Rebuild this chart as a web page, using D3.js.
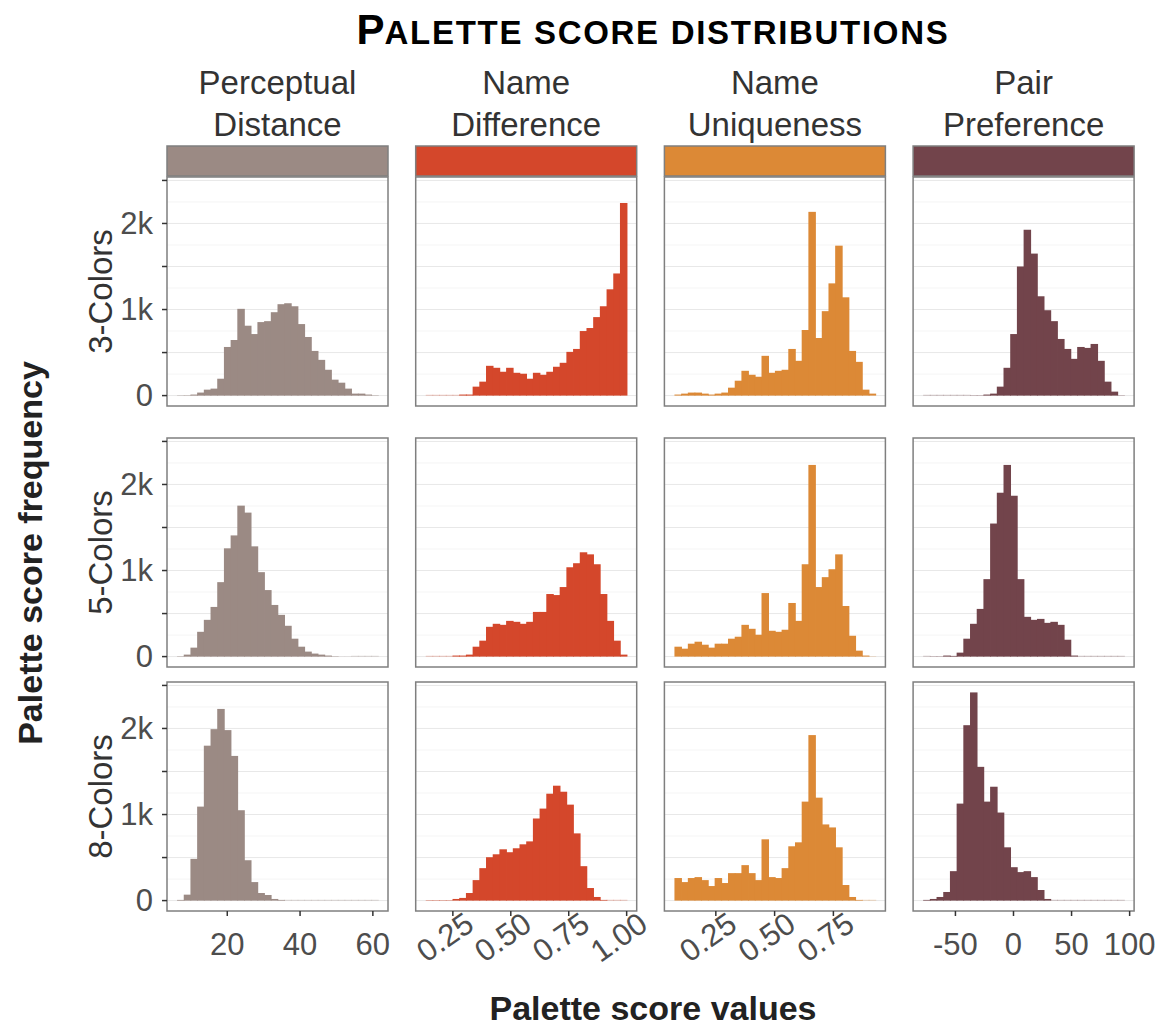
<html>
  <head>
    <script src="https://d3js.org/d3.v7.min.js"></script>
    <style>
      body { margin: 0; background: #fff; }
      text { font-family: "Liberation Sans", Arial, sans-serif; }
      .panel-border { fill: none; stroke: #7f7f7f; stroke-width: 1.5px; }
      .grid-major { stroke: #e8e8e8; stroke-width: 1px; }
      .grid-minor { stroke: #f5f5f5; stroke-width: 1px; }
      .tick-label { fill: #4d4d4d; font-size: 31px; }
      .strip-text { fill: #333; font-size: 33px; }
      .axis-title { fill: #222; font-size: 34px; font-weight: bold; }
    </style>
  </head>
  <body>
    <svg id="chart" width="1171" height="1027"></svg>
    <script>
      // Facet labels
      const measureLines = [
        ["Perceptual", "Distance"],
        ["Name", "Difference"],
        ["Name", "Uniqueness"],
        ["Pair", "Preference"]
      ];
      const measureColors = ["#9b8a84", "#d4472b", "#dc8936", "#72444b"];
      const rowLabels = ["3-Colors", "5-Colors", "8-Colors"];

      // 30 bins per column, shared range across rows (lo edge, hi edge)
      const binRanges = [[6.2, 61.4], [0.133, 1.0], [0.074, 0.9285], [-77.8, 95.2]];
      const xTicks = [[20, 40, 60], [0.25, 0.5, 0.75, 1.0], [0.25, 0.5, 0.75], [-50, 0, 50, 100]];
      const xTickLabels = [["20", "40", "60"], ["0.25", "0.50", "0.75", "1.00"], ["0.25", "0.50", "0.75"], ["-50", "0", "50", "100"]];
      const xTickRotated = [false, true, true, false];
      const yTicks = [0, 500, 1000, 1500, 2000, 2500];
      const yTickLabels = ["0", "", "1k", "", "2k", ""];

      // counts per bin, one array per column
      const counts3 = [
        [3, 4, 12, 35, 69, 81, 196, 565, 646, 1008, 812, 715, 854, 865, 969, 1062, 1073, 1038, 831, 681, 519, 415, 300, 185, 150, 81, 23, 23, 12, 4],
        [0, 0, 0, 0, 0, 12, 12, 104, 162, 346, 323, 277, 323, 265, 254, 196, 265, 242, 277, 335, 381, 508, 542, 750, 785, 912, 1038, 1235, 1419, 2238],
        [12, 23, 35, 35, 23, 12, 23, 35, 92, 173, 288, 242, 219, 462, 265, 288, 300, 542, 404, 762, 2135, 669, 981, 1304, 1742, 1142, 519, 392, 69, 23],
        [0, 0, 0, 0, 0, 0, 0, 3, 3, 12, 23, 104, 323, 715, 1500, 1927, 1650, 1154, 992, 865, 658, 542, 427, 565, 554, 600, 404, 162, 46, 3]
      ];
      const counts5 = [
        [4, 23, 104, 288, 427, 577, 865, 1258, 1408, 1754, 1673, 1281, 981, 773, 600, 485, 358, 208, 115, 58, 35, 23, 12, 4, 1, 1, 0, 0, 0, 0],
        [0, 0, 0, 0, 12, 12, 23, 115, 185, 346, 381, 369, 415, 404, 381, 404, 519, 519, 727, 715, 808, 1038, 1085, 1212, 1188, 1073, 727, 415, 185, 23],
        [115, 92, 150, 173, 138, 104, 150, 150, 208, 231, 369, 323, 254, 738, 300, 288, 312, 623, 415, 1073, 2227, 808, 923, 1015, 1188, 588, 242, 69, 12, 2],
        [0, 3, 3, 12, 8, 46, 208, 381, 554, 900, 1546, 1904, 2227, 1869, 900, 462, 427, 438, 392, 404, 369, 196, 12, 0, 0, 0, 0, 0, 0, 0]
      ];
      const counts8 = [
        [8, 69, 485, 1092, 1800, 1992, 2227, 1981, 1681, 1050, 469, 215, 88, 65, 19, 8, 0, 0, 0, 0, 0, 0, 0, 0, 0, 0, 0, 0, 0, 0],
        [4, 4, 4, 4, 19, 31, 88, 238, 377, 504, 538, 596, 562, 608, 654, 688, 954, 1069, 1242, 1335, 1265, 1115, 781, 400, 146, 42, 8, 0, 0, 0],
        [262, 215, 262, 273, 238, 169, 262, 204, 319, 319, 412, 319, 238, 712, 273, 262, 377, 631, 677, 1150, 1923, 1196, 885, 850, 619, 181, 42, 8, 0, 0],
        [8, 19, 42, 100, 342, 1127, 2038, 2419, 1554, 1150, 1323, 1023, 619, 388, 331, 342, 273, 123, 19, 0, 0, 0, 0, 0, 0, 0, 0, 0, 0, 0]
      ];
      const allCounts = [counts3, counts5, counts8];

      const svg = d3.select("#chart");
      const panelLeft = 167, panelStep = 248.7, panelW = 221, panelH = 229;
      const rowTops = [177, 438, 682];
      const nBins = 30;

      // shared y scale (5% expansion)
      const maxCount = d3.max(allCounts.flat(2));
      const yPad = maxCount * 0.05;
      const yDomain = [-yPad, maxCount + yPad];

      // title
      const title = svg.append("text")
        .attr("x", 653).attr("y", 44)
        .attr("text-anchor", "middle")
        .attr("font-weight", "bold")
        .attr("fill", "#000");
      title.append("tspan").attr("font-size", 42).text("P");
      title.append("tspan").attr("font-size", 33).attr("letter-spacing", 1.7).text("ALETTE SCORE DISTRIBUTIONS");

      measureLines.forEach((lines, c) => {
        const x0 = panelLeft + c * panelStep;
        const xs = d3.scaleLinear()
          .domain(binRanges[c])
          .range([x0 + panelW * 0.05 / 1.1, x0 + panelW - panelW * 0.05 / 1.1]);
        const binW = (binRanges[c][1] - binRanges[c][0]) / nBins;
        const edges = d3.range(nBins + 1).map(i => binRanges[c][0] + i * binW);

        // column header
        svg.append("text").attr("class", "strip-text")
          .attr("x", x0 + panelW / 2).attr("text-anchor", "middle")
          .selectAll("tspan").data(lines).join("tspan")
          .attr("x", x0 + panelW / 2)
          .attr("y", (d, i) => 94 + i * 42)
          .text(d => d);

        // coloured strip
        svg.append("rect")
          .attr("x", x0).attr("y", 146)
          .attr("width", panelW).attr("height", 30)
          .attr("fill", measureColors[c])
          .attr("stroke", "#7f7f7f").attr("stroke-width", 1.5);

        rowLabels.forEach((rl, r) => {
          const top = rowTops[r];
          const ys = d3.scaleLinear().domain(yDomain).range([top + panelH, top]);
          const g = svg.append("g");

          // grid
          const minor = d3.range(250, 2600, 500);
          g.selectAll("line.grid-minor").data(minor.filter(v => ys(v) > top))
            .join("line").attr("class", "grid-minor")
            .attr("x1", x0).attr("x2", x0 + panelW)
            .attr("y1", d => ys(d)).attr("y2", d => ys(d));
          g.selectAll("line.grid-major").data(yTicks.filter(v => ys(v) > top))
            .join("line").attr("class", "grid-major")
            .attr("x1", x0).attr("x2", x0 + panelW)
            .attr("y1", d => ys(d)).attr("y2", d => ys(d));

          // bars
          const counts = allCounts[r][c];
          g.selectAll("rect.bar").data(counts)
            .join("rect").attr("class", "bar")
            .attr("x", (d, i) => xs(edges[i]))
            .attr("width", (d, i) => xs(edges[i + 1]) - xs(edges[i]) + 0.8)
            .attr("y", d => d > 0 ? ys(d) : ys(0) - 0.8)
            .attr("height", d => d > 0 ? ys(0) - ys(d) : 0.8)
            .attr("fill", measureColors[c])
            .attr("opacity", d => d > 0 ? 1 : 0.35);

          g.append("rect").attr("class", "panel-border")
            .attr("x", x0).attr("y", top)
            .attr("width", panelW).attr("height", panelH);

          // y axis on first column
          if (c === 0) {
            g.selectAll("line.ytick").data(yTicks.filter(v => ys(v) >= top - 1))
              .join("line").attr("class", "ytick")
              .attr("x1", x0 - 5).attr("x2", x0)
              .attr("y1", d => ys(d)).attr("y2", d => ys(d))
              .attr("stroke", "#333").attr("stroke-width", 1.5);
            g.selectAll("text.ylab").data(yTicks)
              .join("text").attr("class", "tick-label ylab")
              .attr("x", x0 - 14).attr("y", d => ys(d))
              .attr("dy", "0.35em").attr("text-anchor", "end")
              .text((d, i) => yTickLabels[i]);

            svg.append("text").attr("class", "strip-text")
              .attr("transform", `translate(100,${top + panelH / 2}) rotate(-90)`)
              .attr("text-anchor", "middle").attr("dy", "0.35em")
              .text(rl);
          }

          // x axis on last row
          if (r === rowLabels.length - 1) {
            const bottom = top + panelH;
            g.selectAll("line.xtick").data(xTicks[c])
              .join("line").attr("class", "xtick")
              .attr("x1", d => xs(d)).attr("x2", d => xs(d))
              .attr("y1", bottom).attr("y2", bottom + 5)
              .attr("stroke", "#333").attr("stroke-width", 1.5);
            const lab = g.selectAll("text.xlab").data(xTicks[c])
              .join("text").attr("class", "tick-label xlab")
              .text((d, i) => xTickLabels[c][i]);
            if (xTickRotated[c]) {
              lab.attr("text-anchor", "middle").attr("dy", "0.35em")
                .attr("transform", d => `translate(${xs(d) - 8},${bottom + 26}) rotate(-35)`);
            } else {
              lab.attr("text-anchor", "middle")
                .attr("x", d => xs(d)).attr("y", bottom + 44);
            }
          }
        });
      });

      // axis titles
      svg.append("text").attr("class", "axis-title")
        .attr("x", 653).attr("y", 1020).attr("text-anchor", "middle")
        .text("Palette score values");
      svg.append("text").attr("class", "axis-title")
        .attr("transform", "translate(30,553) rotate(-90)")
        .attr("text-anchor", "middle").attr("dy", "0.35em")
        .text("Palette score frequency");
    </script>
  </body>
</html>
